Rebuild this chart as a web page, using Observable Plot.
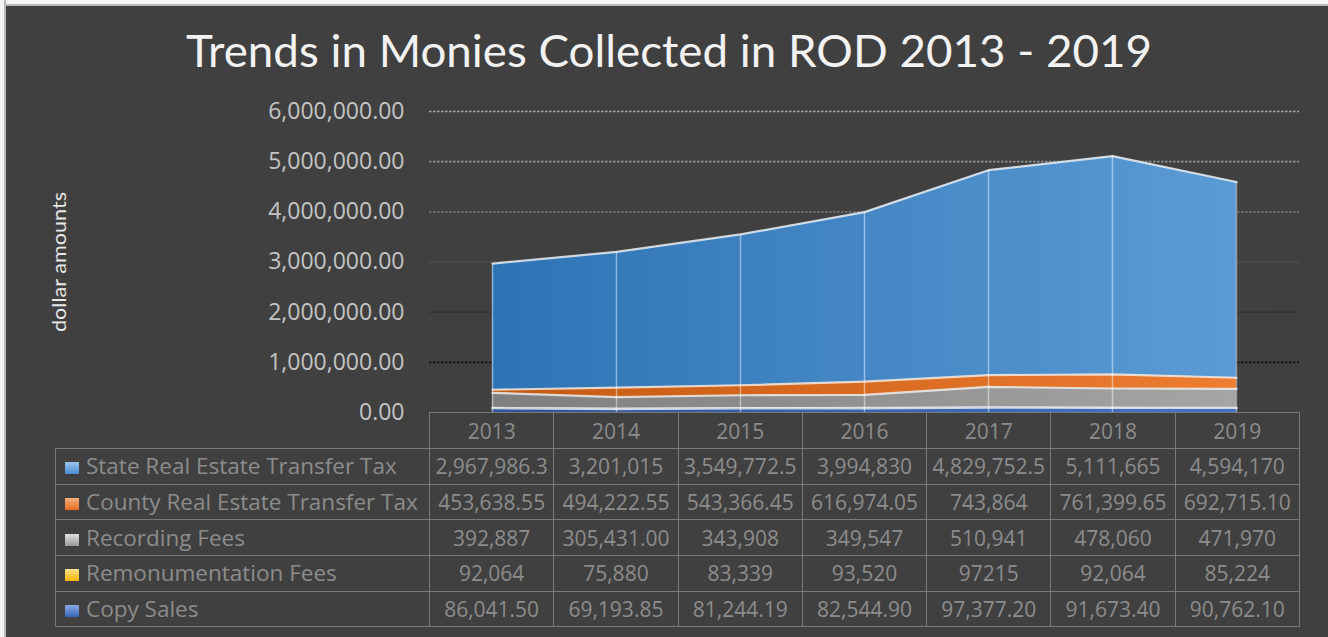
<!DOCTYPE html>
<html>
<head>
<meta charset="utf-8">
<script src="https://cdn.jsdelivr.net/npm/d3@7"></script>
<script src="https://cdn.jsdelivr.net/npm/@observablehq/plot@0.6"></script>
<style>
  html, body { margin: 0; padding: 0; background: #ffffff; }
  #page { position: relative; width: 1328px; height: 637px; background: #404040; overflow: hidden; font-family: "Open Sans", sans-serif; }
  #topband { position: absolute; left: 0; top: 0; width: 1328px; height: 4px; background: #f4f4f4; border-bottom: 2px solid #b8b8b8; }
  #leftband { position: absolute; left: 0; top: 0; width: 4px; height: 637px; background: #f4f4f4; border-right: 2px solid #b8b8b8; }
  #overlay { position: absolute; left: 0; top: 0; }
  #chart { position: absolute; left: 0; top: 95px; }
  #table { position: absolute; left: 55px; top: 412px; border-collapse: collapse; table-layout: fixed; color: #8c8c8c; font-size: 21px; }
  #table td { border: 1px solid #7a7a7a; padding: 0; white-space: nowrap; overflow: hidden; text-align: center; line-height: 20px; }
  #table td.lab { text-align: left; padding-left: 9px; font-size: 22.5px; }
  #table td.blank { border: none; border-bottom: 1px solid #7a7a7a; }
  .sw { display: inline-block; width: 14px; height: 12px; margin-right: 7px; vertical-align: 0px; }
</style>
</head>
<body>
<div id="page">
  <div id="topband"></div>
  <div id="leftband"></div>
  <div id="chart"></div>
  <svg id="overlay" width="1328" height="637"></svg>
  <table id="table"></table>
</div>
<script>
// ---- data ----
const years = ["2013", "2014", "2015", "2016", "2017", "2018", "2019"];
const seriesNames = ["State Real Estate Transfer Tax", "County Real Estate Transfer Tax", "Recording Fees", "Remonumentation Fees", "Copy Sales"];
const stateTax = [2967986.3, 3201015, 3549772.5, 3994830, 4829752.5, 5111665, 4594170];
const countyTax = [453638.55, 494222.55, 543366.45, 616974.05, 743864, 761399.65, 692715.10];
const recordingFees = [392887, 305431, 343908, 349547, 510941, 478060, 471970];
const remonumentationFees = [92064, 75880, 83339, 93520, 97215, 92064, 85224];
const copySales = [86041.50, 69193.85, 81244.19, 82544.90, 97377.20, 91673.40, 90762.10];
const stateLabels = ["2,967,986.3", "3,201,015", "3,549,772.5", "3,994,830", "4,829,752.5", "5,111,665", "4,594,170"];
const countyLabels = ["453,638.55", "494,222.55", "543,366.45", "616,974.05", "743,864", "761,399.65", "692,715.10"];
const recordingLabels = ["392,887", "305,431.00", "343,908", "349,547", "510,941", "478,060", "471,970"];
const remonumentationLabels = ["92,064", "75,880", "83,339", "93,520", "97215", "92,064", "85,224"];
const copyLabels = ["86,041.50", "69,193.85", "81,244.19", "82,544.90", "97,377.20", "91,673.40", "90,762.10"];
const yTicks = [0, 1000000, 2000000, 3000000, 4000000, 5000000, 6000000];
const title = "Trends in Monies Collected in ROD 2013 - 2019";
const yLabel = "dollar amounts";

// ---- styles ----
const seriesValues = [stateTax, countyTax, recordingFees, remonumentationFees, copySales];
const seriesLabels = [stateLabels, countyLabels, recordingLabels, remonumentationLabels, copyLabels];
const gradStops = [["#2e73b4", "#5b9bd5"], ["#c55a11", "#ed7d31"], ["#7f7f7f", "#a5a5a5"], ["#bf9000", "#ffc000"], ["#2f5597", "#4472c4"]];
const swatch = [["#9cc5ee", "#4a8fd0"], ["#f6b081", "#e36c1e"], ["#e0e0e0", "#9a9a9a"], ["#ffe28a", "#f0b400"], ["#8aa8e0", "#3a64bd"]];

const rows = seriesValues.map((vals, s) => years.map((year, i) => ({year, series: seriesNames[s], value: vals[i]})));

const marks = [
  Plot.ruleY(yTicks.filter(d => d > 0), {y: d => d, stroke: "url(#gridGrad)", strokeWidth: 1.6, strokeDasharray: "2.5,1.5"}),
  Plot.axisY(yTicks, {tickSize: 0, tickPadding: 25, tickFormat: d3.format(",.2f"), label: null, fontSize: 23, fill: "#c4c4c4"})
];
rows.forEach((data, s) => {
  marks.push(Plot.areaY(data, {x: "year", y: "value", fill: `url(#areaGrad${s})`}));
  marks.push(Plot.lineY(data, {x: "year", y: "value", stroke: "#f2f2f2", strokeOpacity: 0.8, strokeWidth: 2.2}));
});
marks.push(Plot.ruleX(rows[0], {x: "year", y1: 0, y2: "value", stroke: "#ffffff", strokeOpacity: 0.45, strokeWidth: 1.5}));

const svg = Plot.plot({
  width: 1328,
  height: 330,
  marginLeft: 429,
  marginRight: 29,
  marginTop: 16,
  marginBottom: 13,
  style: {background: "transparent", color: "#c4c4c4", fontFamily: "Open Sans, sans-serif", overflow: "visible"},
  x: {type: "point", domain: years, padding: 0.5, axis: null},
  y: {domain: [0, 6000000], axis: null},
  marks
});

// gradients
const defs = d3.select(svg).insert("defs", ":first-child");
gradStops.forEach((c, s) => {
  const g = defs.append("linearGradient").attr("id", `areaGrad${s}`).attr("x1", 0).attr("x2", 1).attr("y1", 0).attr("y2", 0);
  g.append("stop").attr("offset", 0).attr("stop-color", c[0]);
  g.append("stop").attr("offset", 1).attr("stop-color", c[1]);
});
const gg = defs.append("linearGradient").attr("id", "gridGrad").attr("gradientUnits", "userSpaceOnUse")
  .attr("x1", 0).attr("x2", 0).attr("y1", 16).attr("y2", 267);
gg.append("stop").attr("offset", 0).attr("stop-color", "#a8a8a8");
gg.append("stop").attr("offset", 0.45).attr("stop-color", "#6a6a6a");
gg.append("stop").attr("offset", 1).attr("stop-color", "#111111");

document.getElementById("chart").appendChild(svg);

// title + y label
const ov = d3.select("#overlay");
ov.append("text").attr("x", 186).attr("y", 67).attr("textLength", 966).attr("lengthAdjust", "spacingAndGlyphs")
  .attr("font-family", "Lato, sans-serif").attr("font-size", 44).attr("fill", "#f2f2f2").text(title);
ov.append("text").attr("transform", "translate(66,262) rotate(-90)").attr("text-anchor", "middle")
  .attr("textLength", 140).attr("lengthAdjust", "spacingAndGlyphs")
  .attr("font-family", "Lato, sans-serif").attr("font-size", 19).attr("fill", "#e8e8e8").text(yLabel);

// data table
const table = d3.select("#table");
const cg = table.append("colgroup");
cg.append("col").style("width", "374px");
years.forEach(() => cg.append("col").style("width", (870 / 7) + "px"));
const hr = table.append("tr").style("height", "36px");
hr.append("td").attr("class", "blank");
years.forEach(y => hr.append("td").text(y));
seriesNames.forEach((name, s) => {
  const tr = table.append("tr").style("height", "35.7px");
  const lab = tr.append("td").attr("class", "lab");
  lab.append("span").attr("class", "sw").style("background", `linear-gradient(to bottom, ${swatch[s][0]}, ${swatch[s][1]})`);
  lab.append("span").text(name);
  seriesLabels[s].forEach(t => tr.append("td").text(t));
});
</script>
</body>
</html>
